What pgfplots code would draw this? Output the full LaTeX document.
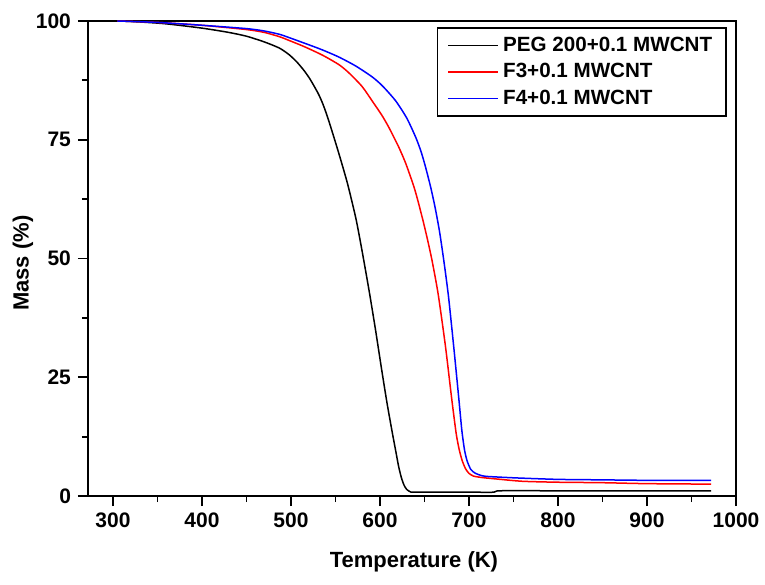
\documentclass[border=0pt]{standalone}
\usepackage{pgfplots}
\pgfplotsset{compat=1.18}
\usepackage{fontspec}
\setmainfont{Liberation Sans}
\begin{document}
\begin{tikzpicture}
\begin{axis}[
  scale only axis,
  width=324pt, height=237.5pt,
  xmin=272, xmax=1000, ymin=0, ymax=100,
  xtick={300,400,...,1000}, ytick={0,25,50,75,100},
  minor x tick num=1, minor y tick num=1,
  tick align=outside,
  xtick pos=bottom, ytick pos=left,
  major tick length=5pt, minor tick length=3pt,
  every tick/.style={black, line width=0.9pt},
  axis line style={line width=1pt},
  /pgf/number format/assume math mode=true,
  /pgf/number format/1000 sep={},
  tick label style={font=\fontsize{10.5}{12}\selectfont\bfseries},
  label style={font=\fontsize{11}{13}\selectfont\bfseries},
  xlabel={Temperature (K)}, ylabel={Mass (\%)},
  xlabel style={at={(axis description cs:0.503,-0.139)}, anchor=center},
  ylabel style={at={(axis description cs:-0.1003,0.49)}, anchor=center},
  legend style={at={(rel axis cs:0.986,0.987)}, anchor=north east,
    draw=black, line width=0.8pt, font=\fontsize{10.3}{12}\selectfont\bfseries,
    inner xsep=5pt, inner ysep=2.5pt, row sep=0.5pt},
  legend cell align=left,
  legend image code/.code={\draw[line width=0.75pt] (0pt,0pt) -- (25pt,0pt);},
  every axis plot/.append style={line width=0.75pt, smooth, tension=0.4},
]
\addplot[black] coordinates {
(308,100) (330,99.8) (360,99.4) (400,98.5) (430,97.6) (450,96.8) (470,95.6)
(487,94.3) (498,92.9) (507,91.3) (515,89.5) (521,87.9) (526,86.3) (531,84.6)
(535.5,82.7) (540,80.4) (545,77.5) (554,72) (563.5,65.8) (573,58.4) (580,51.5)
(588,43) (595,35) (602,26.5) (608,19.5) (614,13.2) (618,9.2) (621,6.2) (624,3.9)
(627,2.3) (630,1.4) (634,0.9) (640,0.8) (700,0.8) (728,0.8) (735,1.1)
(800,1.1) (900,1.1) (972,1.1)};
\addlegendentry{PEG 200+0.1 MWCNT}
\addplot[red] coordinates {
(305,100) (350,99.7) (400,99.1) (450,98.2) (470,97.6) (487,96.7) (498,95.9)
(515,94.6) (535.5,92.8) (554,90.8) (565,89.1) (580,86.2) (591.5,83.1) (602,80.2)
(610,77.6) (621,73.5) (629,70) (638,65.2) (643,61.9) (649,57.5) (654,53.5)
(658.7,49.4) (665.4,42.5) (673.6,31.5) (680.4,20.8) (685.6,13.2) (689,9.8)
(692.3,7.5) (696,5.8) (699.8,4.8) (705,4.2) (714,3.9) (730,3.6) (760,3.1)
(800,2.9) (850,2.8) (900,2.6) (972,2.5)};
\addlegendentry{F3+0.1 MWCNT}
\addplot[blue] coordinates {
(305,100) (350,99.7) (400,99.1) (450,98.4) (470,97.9) (487,97.2) (498,96.5)
(520,95.0) (535.5,93.9) (554,92.4) (573,90.5) (591.5,88.2) (603,86.3) (617.6,83.2)
(630,79.6) (640,75.6) (646,72.6) (651,69.4) (657,65) (662,60.7) (667,55.6)
(672,49.2) (677,42) (683,31.2) (688.6,20.5) (692,13.8) (695,9.7) (697.9,7.4)
(702,5.6) (707,4.8) (714,4.3) (722,4.1) (754,3.8) (800,3.5) (850,3.4) (900,3.3)
(972,3.3)};
\addlegendentry{F4+0.1 MWCNT}
\coordinate (sw) at (rel axis cs:0,0);
\coordinate (ne) at (rel axis cs:1,1);
\end{axis}
\pgfresetboundingbox
\path (sw) ++(-44pt,-44pt) rectangle ([shift={(14.5pt,10.5pt)}]ne);
\end{tikzpicture}
\end{document}
